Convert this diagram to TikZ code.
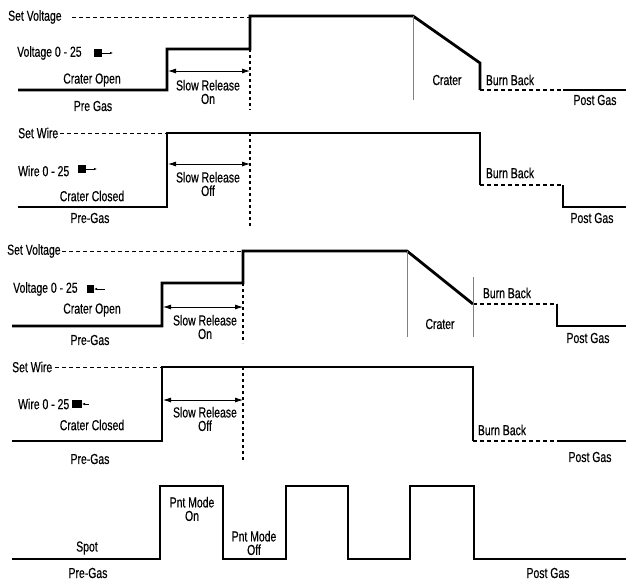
\documentclass[tikz,border=0pt]{standalone}
\usepackage{fontspec}
\setmainfont[FakeStretch=0.72,FakeBold=0.4]{Liberation Sans}
\usetikzlibrary{arrows.meta}
\begin{document}
\begin{tikzpicture}[x=1pt,y=-1pt,
  font=\fontsize{14.5}{13.5}\selectfont,
  wave/.style={line width=2.8pt, line join=miter, line cap=butt},
  wavedash/.style={line width=2.2pt, dash pattern=on 4pt off 3pt},
  guide/.style={line width=0.8pt, dash pattern=on 4pt off 3pt},
  dotv/.style={line width=2pt, dash pattern=on 3pt off 3pt},
  thinv/.style={line width=0.5pt, gray},
  dbl/.style={line width=0.8pt, {Latex[length=8pt,width=5pt]}-{Latex[length=8pt,width=5pt]}},
  small/.style={line width=0.6pt, -{Latex[length=3pt,width=2.5pt]}},
  lbl/.style={inner sep=0pt, align=center},
  sq/.style={fill=black}
]
\useasboundingbox (0,0) rectangle (626,581);

% ---------- Panel 1 ----------
\draw[guide] (72,17) -- (250,17);
\draw[wave] (18,90) -- (167,90) -- (167,49) -- (250,49) -- (250,16) -- (413,16) -- (480,63) -- (480,90);
\draw[wavedash] (480,90) -- (563,90);
\draw[wave] (563,90) -- (626,90);
\draw[thinv] (413,16) -- (413,100);
\draw[dotv] (250,49) -- (250,110);
\draw[dbl] (168,71) -- (250,71);
\node[lbl, anchor=west] (sv1) at (8,17) {Set Voltage};
\node[lbl, anchor=west] (v1) at (17,53) {Voltage 0 - 25};
\fill[sq] (94,49) rectangle (102,57);
\coordinate (a1s) at (102,53); \coordinate (a1e) at (113,53);
\draw[small] (a1s) -- (a1e);
\node[lbl] (co1) at (92,80) {Crater Open};
\node[lbl] (pg1) at (93,106) {Pre Gas};
\node[lbl] (sr1) at (208,92) {Slow Release\\On};
\node[lbl] (cr1) at (447,80) {Crater};
\node[lbl] (bb1) at (510,80) {Burn Back};
\node[lbl] (po1) at (595,100) {Post Gas};

% ---------- Panel 2 ----------
\draw[guide] (60,133) -- (167,133);
\draw[wave] (18,207) -- (167,207) -- (167,133) -- (480,133) -- (480,185);
\draw[wavedash] (480,185) -- (563,185);
\draw[wave] (563,185) -- (563,207) -- (626,207);
\draw[dotv] (250,133) -- (250,227);
\draw[dbl] (168,164) -- (250,164);
\node[lbl, anchor=west] (sw2) at (18,133) {Set Wire};
\node[lbl, anchor=west] (w2) at (18,171) {Wire 0 - 25};
\fill[sq] (78,165) rectangle (86,173);
\coordinate (a2s) at (86,169); \coordinate (a2e) at (97,169);
\draw[small] (a2s) -- (a2e);
\node[lbl] (sr2) at (208,184) {Slow Release\\Off};
\node[lbl] (cc2) at (92,196) {Crater Closed};
\node[lbl] (pg2) at (90,218) {Pre-Gas};
\node[lbl] (bb2) at (510,173) {Burn Back};
\node[lbl] (po2) at (592,218) {Post Gas};

% ---------- Panel 3 ----------
\draw[guide] (62,251) -- (243,251);
\draw[wave] (12,326) -- (162,326) -- (162,283) -- (243,283) -- (243,251) -- (407,251) -- (473,304);
\draw[wavedash] (473,304) -- (557,304);
\draw[wave] (557,304) -- (557,326) -- (626,326);
\draw[thinv] (407,251) -- (407,337);
\draw[thinv] (473,277) -- (473,337);
\draw[dotv] (243,283) -- (243,343);
\draw[dbl] (163,307) -- (243,307);
\node[lbl, anchor=west] (sv3) at (7,251) {Set Voltage};
\node[lbl, anchor=west] (v3) at (13,289) {Voltage 0 - 25};
\fill[sq] (87,285) rectangle (94,293);
\coordinate (a3s) at (105,289); \coordinate (a3e) at (94,289);
\draw[small] (a3s) -- (a3e);
\node[lbl] (co3) at (92,310) {Crater Open};
\node[lbl] (sr3) at (205,327) {Slow Release\\On};
\node[lbl] (pg3) at (90,340) {Pre-Gas};
\node[lbl] (cr3) at (440,324) {Crater};
\node[lbl] (bb3) at (507,293) {Burn Back};
\node[lbl] (po3) at (588,338) {Post Gas};

% ---------- Panel 4 ----------
\draw[guide] (55,367) -- (162,367);
\draw[wave] (12,441) -- (162,441) -- (162,367) -- (473,367) -- (473,441);
\draw[wavedash] (473,441) -- (557,441);
\draw[wave] (557,441) -- (626,441);
\draw[dotv] (243,367) -- (243,462);
\draw[dbl] (163,400) -- (243,400);
\node[lbl, anchor=west] (sw4) at (12,367) {Set Wire};
\node[lbl, anchor=west] (w4) at (18,404) {Wire 0 - 25};
\fill[sq] (72,400) rectangle (82,408);
\coordinate (a4s) at (89,404); \coordinate (a4e) at (82,404);
\draw[small] (a4s) -- (a4e);
\node[lbl] (sr4) at (205,419) {Slow Release\\Off};
\node[lbl] (cc4) at (92,425) {Crater Closed};
\node[lbl] (pg4) at (90,459) {Pre-Gas};
\node[lbl] (bb4) at (502,430) {Burn Back};
\node[lbl] (po4) at (590,457) {Post Gas};

% ---------- Panel 5 ----------
\draw[wave] (12,559) -- (160,559) -- (160,486) -- (223,486) -- (223,559) -- (286,559) -- (286,486) -- (348,486) -- (348,559) -- (410,559) -- (410,486) -- (474,486) -- (474,559) -- (626,559);
\node[lbl] (pm1) at (192,509) {Pnt Mode\\On};
\node[lbl] (pm2) at (254,543) {Pnt Mode\\Off};
\node[lbl] (sp5) at (87,548) {Spot};
\node[lbl] (pg5) at (88,573) {Pre-Gas};
\node[lbl] (po5) at (548,573) {Post Gas};
\end{tikzpicture}
\end{document}
